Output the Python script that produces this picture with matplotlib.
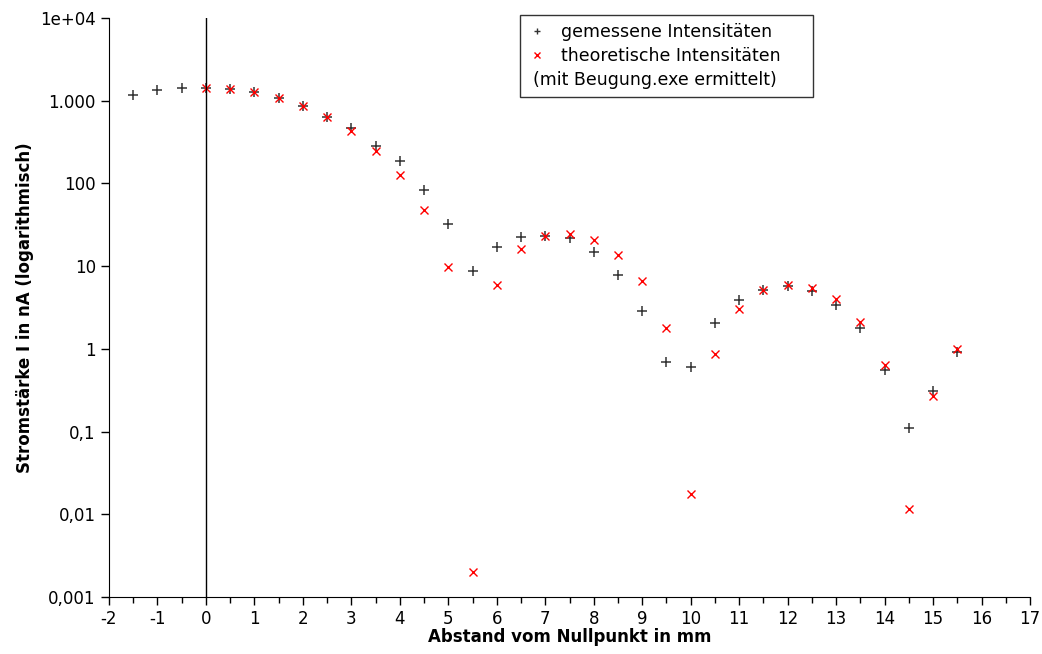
import matplotlib.pyplot as plt
from matplotlib.lines import Line2D
from matplotlib.ticker import FixedLocator, MultipleLocator

plt.rcParams['axes.unicode_minus'] = False

# Messwerte (+) und theoretische Werte (x)
x_gem = [-1.5, -1, -0.5, 0, 0.5, 1, 1.5, 2, 2.5, 3, 3.5, 4, 4.5, 5, 5.5, 6, 6.5, 7,
         7.5, 8, 8.5, 9, 9.5, 10, 10.5, 11, 11.5, 12, 12.5, 13, 13.5, 14, 14.5, 15, 15.5]
i_gem = [1170, 1350, 1430, 1430, 1400, 1280, 1080, 865, 636, 469, 285, 187, 84, 32.5,
         8.8, 17, 22.6, 23.3, 22, 14.9, 7.9, 2.9, 0.70, 0.61, 2.07, 3.9, 5.2, 5.7, 5.0,
         3.4, 1.8, 0.56, 0.11, 0.31, 0.92]

x_theo = [0, 0.5, 1, 1.5, 2, 2.5, 3, 3.5, 4, 4.5, 5, 5.5, 6, 6.5, 7, 7.5, 8, 8.5, 9,
          9.5, 10, 10.5, 11, 11.5, 12, 12.5, 13, 13.5, 14, 14.5, 15, 15.5]
i_theo = [1430, 1400, 1270, 1080, 865, 636, 431, 248, 127, 48, 9.8, 0.002, 5.95, 16.2,
          23.3, 24.6, 20.9, 13.7, 6.7, 1.8, 0.0178, 0.875, 3.06, 5.1, 5.9, 5.5, 4.0,
          2.1, 0.63, 0.0117, 0.27, 1.0]

y_ticks = [0.001, 0.01, 0.1, 1, 10, 100, 1000, 10000]
y_labels = ['0,001', '0,01', '0,1', '1', '10', '100', '1.000', '1e+04']

fig = plt.figure(figsize=(10.42, 6.54), dpi=100)
ax = fig.add_axes([0.1046, 0.0872, 0.8839, 0.8853])

ax.plot(x_gem, i_gem, '+', color='#333333', markersize=7, markeredgewidth=1.1)
ax.plot(x_theo, i_theo, 'x', color='red', markersize=6, markeredgewidth=1.0)
ax.axvline(0, color='black', linewidth=1)

ax.set_yscale('log')
ax.set_ylim(0.001, 10000)
ax.set_xlim(-2, 17)
ax.yaxis.set_major_locator(FixedLocator(y_ticks))
ax.set_yticklabels(y_labels)
ax.yaxis.set_minor_locator(FixedLocator([]))
ax.xaxis.set_major_locator(MultipleLocator(1))
ax.xaxis.set_minor_locator(MultipleLocator(0.5))
ax.tick_params(labelsize=12, direction='out', length=6, width=1)
ax.tick_params(which='minor', direction='out', length=4, width=1)

for s in ['top', 'right']:
    ax.spines[s].set_visible(False)

ax.set_xlabel('Abstand vom Nullpunkt in mm', fontsize=12, fontweight='bold', labelpad=0)
ax.set_ylabel('Stromstärke I in nA (logarithmisch)', fontsize=12, fontweight='bold', labelpad=4)

handles = [
    Line2D([], [], linestyle='none', marker='+', color='#333333', markersize=5),
    Line2D([], [], linestyle='none', marker='x', color='red', markersize=4),
    Line2D([], [], linestyle='none'),
]
labels = ['gemessene Intensitäten', 'theoretische Intensitäten', '(mit Beugung.exe ermittelt)']
leg = ax.legend(handles, labels, loc='upper left', bbox_to_anchor=(0.437, 1.02),
                fontsize=12.5, frameon=True, fancybox=False, edgecolor='black',
                handlelength=1.0, handletextpad=0.9, borderpad=0.45, labelspacing=0.35)
leg.get_frame().set_linewidth(1)
leg.get_texts()[2].set_x(-28)

fig.savefig('out.png', dpi=100)
